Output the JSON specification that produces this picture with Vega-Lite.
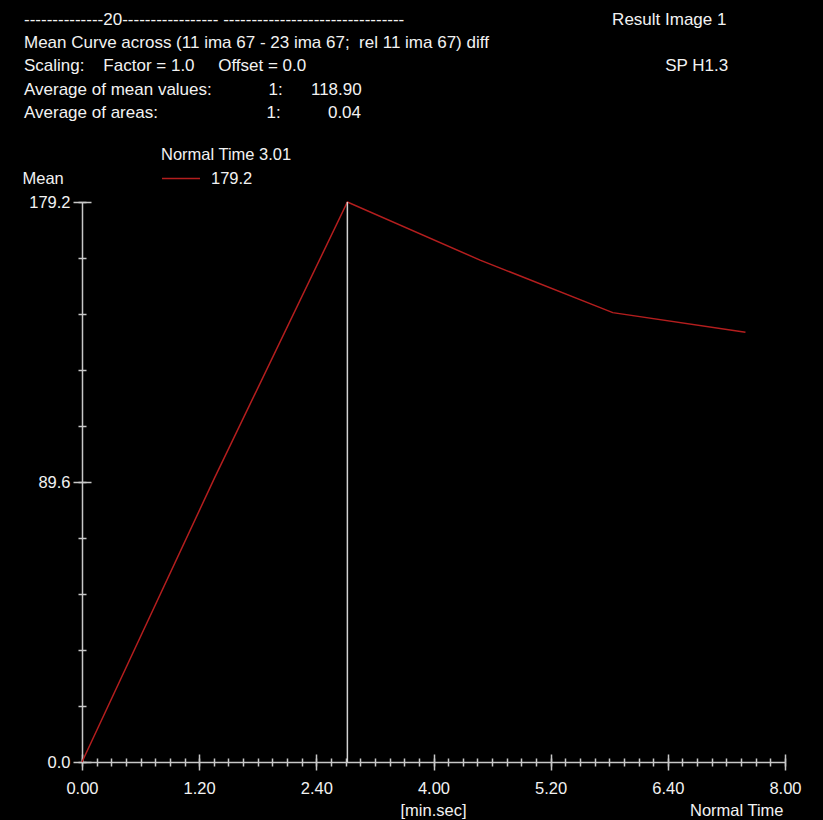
{
  "$schema": "https://vega.github.io/schema/vega-lite/v6.json",
  "width": 703,
  "height": 560,
  "autosize": "none",
  "padding": {"left": 82, "top": 202, "right": 38, "bottom": 58},
  "background": "#000000",
  "config": {
    "view": {"stroke": null},
    "font": "Liberation Sans",
    "axis": {
      "grid": false,
      "tickColor": "#c8c8c8",
      "tickWidth": 1.5,
      "domainColor": "#c8c8c8",
      "domainWidth": 1.5,
      "labelFont": "Liberation Sans",
      "labelFontSize": 16.5,
      "labelColor": "#f2f2f2",
      "titleFont": "Liberation Sans",
      "titleFontSize": 16.5,
      "titleFontWeight": "normal",
      "titleColor": "#f2f2f2",
      "labelOverlap": false,
      "labelBound": false,
      "labelFlush": false
    }
  },
  "title": {
    "text": [
      "--------------20----------------- --------------------------------\u00a0\u00a0\u00a0\u00a0\u00a0\u00a0\u00a0\u00a0\u00a0\u00a0\u00a0\u00a0\u00a0\u00a0\u00a0\u00a0\u00a0\u00a0\u00a0\u00a0\u00a0\u00a0\u00a0\u00a0\u00a0\u00a0\u00a0\u00a0\u00a0\u00a0\u00a0\u00a0\u00a0\u00a0\u00a0\u00a0\u00a0\u00a0\u00a0\u00a0\u00a0\u00a0\u00a0\u00a0Result Image 1",
      "Mean Curve across (11 ima 67 - 23 ima 67;\u00a0\u00a0rel 11 ima 67) diff",
      "Scaling:\u00a0\u00a0\u00a0\u00a0Factor = 1.0\u00a0\u00a0\u00a0\u00a0\u00a0Offset = 0.0\u00a0\u00a0\u00a0\u00a0\u00a0\u00a0\u00a0\u00a0\u00a0\u00a0\u00a0\u00a0\u00a0\u00a0\u00a0\u00a0\u00a0\u00a0\u00a0\u00a0\u00a0\u00a0\u00a0\u00a0\u00a0\u00a0\u00a0\u00a0\u00a0\u00a0\u00a0\u00a0\u00a0\u00a0\u00a0\u00a0\u00a0\u00a0\u00a0\u00a0\u00a0\u00a0\u00a0\u00a0\u00a0\u00a0\u00a0\u00a0\u00a0\u00a0\u00a0\u00a0\u00a0\u00a0\u00a0\u00a0\u00a0\u00a0\u00a0\u00a0\u00a0\u00a0\u00a0\u00a0\u00a0\u00a0\u00a0\u00a0\u00a0\u00a0\u00a0\u00a0\u00a0\u00a0\u00a0\u00a0SP H1.3",
      "Average of mean values:\u00a0\u00a0\u00a0\u00a0\u00a0\u00a0\u00a0\u00a0\u00a0\u00a0\u00a0\u00a01:\u00a0\u00a0\u00a0\u00a0\u00a0\u00a0118.90",
      "Average of areas:\u00a0\u00a0\u00a0\u00a0\u00a0\u00a0\u00a0\u00a0\u00a0\u00a0\u00a0\u00a0\u00a0\u00a0\u00a0\u00a0\u00a0\u00a0\u00a0\u00a0\u00a0\u00a0\u00a01:\u00a0\u00a0\u00a0\u00a0\u00a0\u00a0\u00a0\u00a0\u00a0\u00a00.04"
    ],
    "anchor": "start",
    "frame": "group",
    "orient": "top",
    "dx": -58,
    "dy": -25,
    "offset": 0,
    "color": "#f2f2f2",
    "font": "Liberation Sans",
    "fontSize": 17,
    "fontWeight": "normal",
    "lineHeight": 23.3
  },
  "datasets": {
    "curve": [
      {"time": 0, "value": 0, "curve": "Normal Time"},
      {"time": 90.6, "value": 91, "curve": "Normal Time"},
      {"time": 181.2, "value": 179.2, "curve": "Normal Time"},
      {"time": 271.8, "value": 160.6, "curve": "Normal Time"},
      {"time": 362.4, "value": 143.8, "curve": "Normal Time"},
      {"time": 453, "value": 137.5, "curve": "Normal Time"}
    ],
    "cursor": [{"time": 181.2, "value": 179.2}]
  },
  "layer": [
    {
      "data": {"name": "curve"},
      "mark": {"type": "line", "strokeWidth": 1.5},
      "encoding": {
        "x": {
          "field": "time",
          "type": "quantitative",
          "scale": {"domain": [0, 480], "nice": false, "zero": false},
          "axis": {
            "orient": "bottom",
            "title": "[min.sec]",
            "titleX": 351,
            "titleY": 53,
            "titleAlign": "center",
            "titleBaseline": "alphabetic",
            "values": [0, 80, 160, 240, 320, 400, 480],
            "labelExpr": "floor(datum.value / 60) + '.' + (datum.value % 60 < 10 ? '0' : '') + (datum.value % 60)",
            "labelPadding": 10,
            "tickSize": 8
          }
        },
        "y": {
          "field": "value",
          "type": "quantitative",
          "scale": {"domain": [0, 179.2], "nice": false, "zero": false},
          "axis": {
            "orient": "left",
            "title": "Mean",
            "titleAngle": 0,
            "titleAlign": "left",
            "titleBaseline": "alphabetic",
            "titleX": -60,
            "titleY": -19,
            "values": [0, 89.6, 179.2],
            "format": ".1f",
            "labelPadding": 3,
            "tickSize": 9
          }
        },
        "color": {
          "field": "curve",
          "type": "nominal",
          "scale": {"domain": ["Normal Time"], "range": ["#b41e1e"]},
          "legend": {
            "orient": "none",
            "legendX": 79,
            "legendY": -55,
            "title": "Normal Time 3.01",
            "titleFont": "Liberation Sans",
            "titleFontSize": 16.5,
            "titleFontWeight": "normal",
            "titleColor": "#f2f2f2",
            "titlePadding": -5,
            "labelExpr": "'179.2'",
            "labelFont": "Liberation Sans",
            "labelFontSize": 16.5,
            "labelColor": "#f2f2f2",
            "labelOffset": 10,
            "symbolType": "stroke",
            "symbolSize": 1444,
            "symbolStrokeWidth": 1.5
          }
        }
      }
    },
    {
      "data": {"name": "cursor"},
      "mark": {"type": "rule", "color": "#d2d2d2", "strokeWidth": 1.5},
      "encoding": {
        "x": {
          "field": "time",
          "type": "quantitative",
          "scale": {"domain": [0, 480], "nice": false, "zero": false},
          "axis": {
            "orient": "bottom",
            "title": "Normal Time",
            "titleX": 701,
            "titleY": 53,
            "titleAlign": "right",
            "titleBaseline": "alphabetic",
            "values": [0, 80, 160, 240, 320, 400, 480],
            "labels": false,
            "domain": false,
            "tickSize": -8
          }
        },
        "y": {
          "field": "value",
          "type": "quantitative",
          "scale": {"domain": [0, 179.2], "nice": false, "zero": false},
          "axis": {
            "orient": "left",
            "title": null,
            "values": [0, 89.6, 179.2],
            "labels": false,
            "domain": false,
            "tickSize": -9
          }
        },
        "y2": {"datum": 0}
      }
    },
    {
      "data": {"name": "cursor"},
      "mark": {"type": "rule", "color": "#d2d2d2", "strokeWidth": 1.5, "opacity": 0},
      "encoding": {
        "x": {
          "field": "time",
          "type": "quantitative",
          "scale": {"domain": [0, 480], "nice": false, "zero": false},
          "axis": {
            "orient": "bottom",
            "title": null,
            "values": [0, 10, 20, 30, 40, 50, 60, 70, 80, 90, 100, 110, 120, 130, 140, 150, 160, 170, 180, 190, 200, 210, 220, 230, 240, 250, 260, 270, 280, 290, 300, 310, 320, 330, 340, 350, 360, 370, 380, 390, 400, 410, 420, 430, 440, 450, 460, 470, 480],
            "labels": false,
            "domain": false,
            "tickSize": 4
          }
        },
        "y": {
          "field": "value",
          "type": "quantitative",
          "scale": {"domain": [0, 179.2], "nice": false, "zero": false},
          "axis": {
            "orient": "left",
            "title": null,
            "values": [0, 17.92, 35.84, 53.76, 71.68, 89.6, 107.52, 125.44, 143.36, 161.28, 179.2],
            "labels": false,
            "domain": false,
            "tickSize": 4
          }
        },
        "y2": {"datum": 0}
      }
    },
    {
      "data": {"name": "cursor"},
      "mark": {"type": "rule", "color": "#d2d2d2", "strokeWidth": 1.5, "opacity": 0},
      "encoding": {
        "x": {
          "field": "time",
          "type": "quantitative",
          "scale": {"domain": [0, 480], "nice": false, "zero": false},
          "axis": {
            "orient": "bottom",
            "title": null,
            "values": [0, 10, 20, 30, 40, 50, 60, 70, 80, 90, 100, 110, 120, 130, 140, 150, 160, 170, 180, 190, 200, 210, 220, 230, 240, 250, 260, 270, 280, 290, 300, 310, 320, 330, 340, 350, 360, 370, 380, 390, 400, 410, 420, 430, 440, 450, 460, 470, 480],
            "labels": false,
            "domain": false,
            "tickSize": -4
          }
        },
        "y": {
          "field": "value",
          "type": "quantitative",
          "scale": {"domain": [0, 179.2], "nice": false, "zero": false},
          "axis": {
            "orient": "left",
            "title": null,
            "values": [0, 17.92, 35.84, 53.76, 71.68, 89.6, 107.52, 125.44, 143.36, 161.28, 179.2],
            "labels": false,
            "domain": false,
            "tickSize": -4
          }
        },
        "y2": {"datum": 0}
      }
    }
  ],
  "resolve": {"axis": {"x": "independent", "y": "independent"}}
}
